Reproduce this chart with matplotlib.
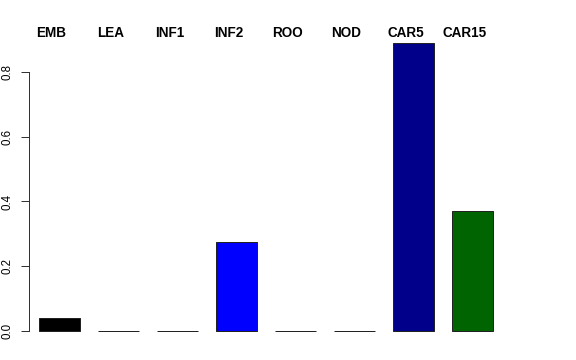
import matplotlib
matplotlib.use("Agg")
import matplotlib.pyplot as plt

categories = ["EMB", "LEA", "INF1", "INF2", "ROO", "NOD", "CAR5", "CAR15"]
values = [0.04, 0.0, 0.0, 0.275, 0.0, 0.0, 0.89, 0.37]
colors = ["#000000", "#444444", "#444444", "#0000FF", "#444444", "#444444", "#00008B", "#006400"]
yticks = [0.0, 0.2, 0.4, 0.6, 0.8]
ytick_labels = ["0.0", "0.2", "0.4", "0.6", "0.8"]

plt.rcParams['font.family'] = ['Liberation Sans', 'DejaVu Sans']

W, H = 576, 360
fig = plt.figure(figsize=(W / 72, H / 72), dpi=72)
pxu = (331 - 72) / 0.8
ytop = 0.92
ax_h = ytop * pxu
ax = fig.add_axes([29 / W, (H - 331) / H, (547 - 29) / W, ax_h / H])

xs = list(range(len(categories)))
ax.bar(xs, values, width=41 / 59, color=colors, edgecolor="#222222",
       linewidth=1.0, clip_on=False)

ax.set_xlim((29 - 59.5) / 59, (547 - 59.5) / 59)
ax.set_ylim(0, ytop)

for s in ["top", "right", "bottom"]:
    ax.spines[s].set_visible(False)
ax.spines["left"].set_bounds(0, 0.8)
ax.spines["left"].set_color("#333333")
ax.spines["left"].set_linewidth(1.0)
ax.set_xticks([])
ax.set_yticks(yticks)
ax.set_yticklabels(ytick_labels, rotation=90, va="center", fontsize=11.5)
ax.tick_params(axis="y", length=8, width=1.0, color="#333333", pad=7)

for i, c in enumerate(categories):
    lx = i - 8 / 59
    ax.text(lx, (331 - 33) / pxu, c, ha="center", va="center",
            fontsize=13.5, fontweight="bold", clip_on=False)

fig.savefig("out.png", dpi=72)
